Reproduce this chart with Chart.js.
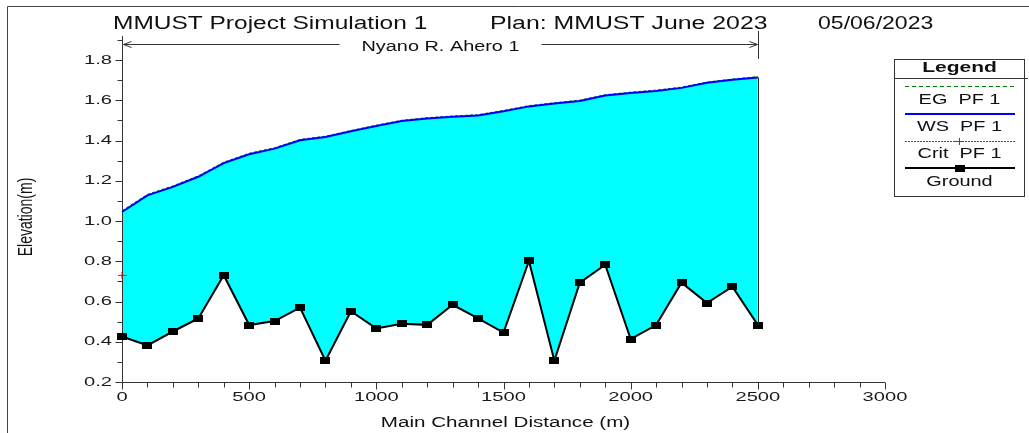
<!DOCTYPE html>
<html>
<head>
<meta charset="utf-8">
<title>MMUST Project Simulation 1 – Profile</title>
<script src="https://cdn.jsdelivr.net/npm/chart.js@4/dist/chart.umd.min.js"></script>
<style>
  html, body { margin: 0; padding: 0; background: #ffffff; }
  #wrap { width: 1029px; height: 433px; position: relative; }
  canvas { display: block; }
</style>
</head>
<body>
<div id="wrap"><canvas id="profile" width="1029" height="433"></canvas></div>
<script>
// Main channel stations (m)
const distances = [0, 100, 200, 300, 400, 500, 600, 700, 800, 900, 1000, 1100, 1200,
                   1300, 1400, 1500, 1600, 1700, 1800, 1900, 2000, 2100, 2200, 2300, 2400, 2500];

// Energy grade line, PF 1 (m)
const egElev = [1.052, 1.133, 1.175, 1.225, 1.293, 1.337, 1.365, 1.406, 1.422, 1.450, 1.477, 1.501, 1.514,
                1.522, 1.529, 1.550, 1.574, 1.588, 1.601, 1.628, 1.641, 1.651, 1.666, 1.691, 1.706, 1.718];

// Water surface, PF 1 (m)
const wsElev = [1.045, 1.128, 1.170, 1.220, 1.288, 1.332, 1.360, 1.402, 1.418, 1.446, 1.473, 1.497, 1.510,
                1.518, 1.525, 1.546, 1.570, 1.584, 1.597, 1.624, 1.637, 1.647, 1.662, 1.687, 1.702, 1.714];

// Channel bed (ground) elevation (m)
const groundElev = [0.426, 0.382, 0.451, 0.516, 0.731, 0.483, 0.503, 0.570, 0.306, 0.552, 0.466, 0.489, 0.484,
                    0.584, 0.516, 0.446, 0.802, 0.306, 0.694, 0.783, 0.413, 0.483, 0.694, 0.592, 0.674, 0.483];

// Critical depth, PF 1 (only computed at the downstream section)
const critDist = [0];
const critElev = [0.73];

// Axis ticks and labels
const xTickValues = [0, 500, 1000, 1500, 2000, 2500, 3000];
const yTickValues = [0.2, 0.4, 0.6, 0.8, 1.0, 1.2, 1.4, 1.6, 1.8];
const xMinorStep = 100;
const yMinorStep = 0.1;

const reachName = 'Nyano R. Ahero 1';
const reachStart = 0;
const reachEnd = 2500;
const titleParts = ['MMUST Project Simulation 1', 'Plan: MMUST June 2023', '05/06/2023'];
const xTitle = 'Main Channel Distance (m)';
const yTitle = 'Elevation(m)';
const legendItems = ['EG  PF 1', 'WS  PF 1', 'Crit  PF 1', 'Ground'];

const FONT = '"Liberation Sans", Arial, Helvetica, sans-serif';
const INK = '#111111';
const AXIS = '#333333';
const SX = 1.42; // horizontal text stretch of the profile plot lettering

function pts(xs, ys) { return xs.map((x, i) => ({ x: x, y: ys[i] })); }

// Ground station marker: small filled block
function makeBlock(w, h, color) {
  const c = document.createElement('canvas');
  c.width = w; c.height = h;
  const g = c.getContext('2d');
  g.fillStyle = color; g.fillRect(0, 0, w, h);
  return c;
}
// Critical depth marker: thin red plus
function makePlus(w, h, color) {
  const c = document.createElement('canvas');
  c.width = w; c.height = h;
  const g = c.getContext('2d');
  g.strokeStyle = color; g.lineWidth = 1;
  g.beginPath();
  g.moveTo(0, Math.floor(h / 2) + 0.5); g.lineTo(w, Math.floor(h / 2) + 0.5);
  g.moveTo(Math.floor(w / 2) + 0.5, 0); g.lineTo(Math.floor(w / 2) + 0.5, h);
  g.stroke();
  return c;
}
const groundMarker = makeBlock(10, 7, '#000000');
const critMarker = makePlus(9, 7, '#ff0000');

function text(ctx, s, x, y, size, o) {
  o = o || {};
  ctx.save();
  ctx.font = (o.bold ? 'bold ' : '') + size + 'px ' + FONT;
  ctx.fillStyle = o.color || INK;
  ctx.textAlign = o.align || 'left';
  ctx.textBaseline = o.baseline || 'middle';
  ctx.translate(x, y);
  ctx.scale(o.sx || SX, 1);
  ctx.fillText(s, 0, 0);
  ctx.restore();
}

function line(ctx, x1, y1, x2, y2, color, width, dash) {
  ctx.save();
  ctx.strokeStyle = color; ctx.lineWidth = width || 1;
  ctx.setLineDash(dash || []);
  ctx.beginPath(); ctx.moveTo(x1, y1); ctx.lineTo(x2, y2); ctx.stroke();
  ctx.restore();
}

// Axes, tick marks and tick labels
const axesPlugin = {
  id: 'profileAxes',
  beforeDatasetsDraw(chart) {
    const ctx = chart.ctx;
    const xs = chart.scales.x, ys = chart.scales.y;
    const a = chart.chartArea;
    const y0 = Math.round(a.bottom) + 0.5;
    const x0 = Math.round(a.left) + 0.5;
    line(ctx, x0, a.top, x0, y0, AXIS, 1);
    line(ctx, x0, y0, a.right, y0, AXIS, 1);
    for (let v = xs.min; v <= xs.max + 1e-9; v += xMinorStep) {
      const px = Math.round(xs.getPixelForValue(v)) + 0.5;
      const major = xTickValues.some(t => Math.abs(t - v) < 1e-6);
      line(ctx, px, y0, px, y0 + (major ? 7 : 5), AXIS, 1);
    }
    for (let v = ys.min; v <= ys.max + 1e-9; v += yMinorStep) {
      const py = Math.round(ys.getPixelForValue(v)) + 0.5;
      const major = yTickValues.some(t => Math.abs(t - v) < 1e-6);
      line(ctx, x0 - (major ? 7 : 5), py, x0, py, AXIS, 1);
    }
  },
  afterDraw(chart) {
    const ctx = chart.ctx;
    const xs = chart.scales.x, ys = chart.scales.y;
    const a = chart.chartArea;

    // tick labels
    xTickValues.forEach(v => {
      text(ctx, String(v), xs.getPixelForValue(v), a.bottom + 15, 13, { align: 'center', sx: 1.55, color: '#1a1a1a' });
    });
    yTickValues.forEach(v => {
      text(ctx, v.toFixed(1), a.left - 10, ys.getPixelForValue(v), 13, { align: 'right', sx: 1.55, color: '#1a1a1a' });
    });

    // axis titles
    text(ctx, xTitle, (a.left + a.right) / 2 + 2, 423, 14, { align: 'center', sx: 1.47 });
    ctx.save();
    ctx.font = '14px ' + FONT;
    ctx.fillStyle = INK; ctx.textAlign = 'center'; ctx.textBaseline = 'middle';
    ctx.translate(27, 217);
    ctx.rotate(-Math.PI / 2);
    ctx.scale(1, 1.4);
    ctx.fillText(yTitle, 0, 0);
    ctx.restore();

    // outer frame (top and left edges)
    line(ctx, 7.5, 6.5, 1029, 6.5, '#444444', 1);
    line(ctx, 7.5, 6.5, 7.5, 433, '#444444', 1);

    // title
    text(ctx, titleParts[0], 113, 29, 18, { baseline: 'alphabetic', sx: 1.36 });
    text(ctx, titleParts[1], 490, 29, 18, { baseline: 'alphabetic', sx: 1.38 });
    text(ctx, titleParts[2], 818, 29, 18, { baseline: 'alphabetic', sx: 1.28 });

    // reach extent marker
    const rx1 = Math.round(xs.getPixelForValue(reachStart)) + 0.5;
    const rx2 = Math.round(xs.getPixelForValue(reachEnd)) + 0.5;
    const ry = 44.5;
    line(ctx, rx1, 36, rx1, a.top, AXIS, 1);
    line(ctx, rx2, 31, rx2, 59, AXIS, 1);
    ctx.save();
    ctx.font = '14px ' + FONT;
    const tw = ctx.measureText(reachName).width * SX;
    ctx.restore();
    const cx = (rx1 + rx2) / 2;
    text(ctx, reachName, cx, ry + 3, 14, { align: 'center' });
    const gap = 22;
    line(ctx, rx1 + 1, ry, cx - tw / 2 - gap, ry, AXIS, 1);
    line(ctx, cx + tw / 2 + gap, ry, rx2 - 1, ry, AXIS, 1);
    line(ctx, rx1 + 1, ry, rx1 + 9, ry - 3, AXIS, 1);
    line(ctx, rx1 + 1, ry, rx1 + 9, ry + 3, AXIS, 1);
    line(ctx, rx2 - 1, ry, rx2 - 9, ry - 3, AXIS, 1);
    line(ctx, rx2 - 1, ry, rx2 - 9, ry + 3, AXIS, 1);

    // downstream end wall of the water body
    const ex = Math.round(xs.getPixelForValue(distances[distances.length - 1])) + 0.5;
    line(ctx, ex, ys.getPixelForValue(wsElev[wsElev.length - 1]), ex,
         ys.getPixelForValue(groundElev[groundElev.length - 1]), '#222222', 1);

    // legend box
    const L = 894.5, R = 1024.5, T = 59.5, B = 196.5, mid = (L + R) / 2;
    ctx.save();
    ctx.strokeStyle = AXIS; ctx.lineWidth = 1;
    ctx.strokeRect(L, T, R - L, B - T);
    ctx.restore();
    text(ctx, 'Legend', mid, 68, 14, { align: 'center', bold: true, sx: 1.5 });
    line(ctx, L, 78.5, 1028, 78.5, AXIS, 1);
    const lx1 = 905, lx2 = 1015;
    // EG
    line(ctx, lx1, 86.5, lx2, 86.5, '#008000', 1, [4, 3]);
    text(ctx, legendItems[0], mid, 100, 14, { align: 'center' });
    // WS
    line(ctx, lx1, 114, lx2, 114, '#0000ff', 2);
    text(ctx, legendItems[1], mid, 127, 14, { align: 'center' });
    // Crit
    line(ctx, lx1, 141.5, lx2, 141.5, '#ff0000', 1, [2, 1]);
    ctx.drawImage(critMarker, Math.round(mid - 4.5), 138);
    text(ctx, legendItems[2], mid, 154, 14, { align: 'center' });
    // Ground
    line(ctx, lx1, 168, lx2, 168, '#000000', 2);
    ctx.drawImage(groundMarker, Math.round(mid - 5), 165);
    text(ctx, legendItems[3], mid, 182, 14, { align: 'center' });
  }
};

new Chart(document.getElementById('profile'), {
  type: 'line',
  data: {
    datasets: [
      {
        label: 'Crit PF 1',
        data: pts(critDist, critElev),
        showLine: false,
        pointStyle: critMarker,
        pointRadius: 4,
        borderColor: '#ff0000',
        backgroundColor: '#ff0000',
        clip: false
      },
      {
        label: 'Ground',
        data: pts(distances, groundElev),
        borderColor: '#000000',
        borderWidth: 2,
        pointStyle: groundMarker,
        pointRadius: 5,
        tension: 0,
        fill: false,
        clip: false
      },
      {
        label: 'WS PF 1',
        data: pts(distances, wsElev),
        borderColor: '#0000ff',
        borderWidth: 2,
        pointRadius: 0,
        tension: 0,
        fill: 1,
        backgroundColor: '#00ffff',
        clip: false
      },
      {
        label: 'EG PF 1',
        data: pts(distances, egElev),
        borderColor: '#008000',
        borderWidth: 1,
        borderDash: [3, 2],
        pointRadius: 0,
        tension: 0,
        fill: false,
        clip: false
      }
    ]
  },
  options: {
    responsive: false,
    animation: false,
    devicePixelRatio: 1,
    layout: { padding: { top: 40, right: 144, left: 0, bottom: 0 } },
    plugins: {
      legend: { display: false },
      title: { display: false },
      tooltip: { enabled: false },
      filler: { drawTime: 'beforeDatasetsDraw' }
    },
    events: [],
    scales: {
      x: {
        type: 'linear',
        min: 0,
        max: 3000,
        grid: { display: false },
        border: { display: false },
        ticks: { display: false },
        afterBuildTicks: s => { s.ticks = xTickValues.map(v => ({ value: v })); },
        afterFit: s => { s.height = 51; }
      },
      y: {
        type: 'linear',
        min: 0.2,
        max: 1.9,
        grid: { display: false },
        border: { display: false },
        ticks: { display: false },
        afterBuildTicks: s => { s.ticks = yTickValues.map(v => ({ value: v })); },
        afterFit: s => { s.width = 122; }
      }
    }
  },
  plugins: [axesPlugin]
});
</script>
</body>
</html>
